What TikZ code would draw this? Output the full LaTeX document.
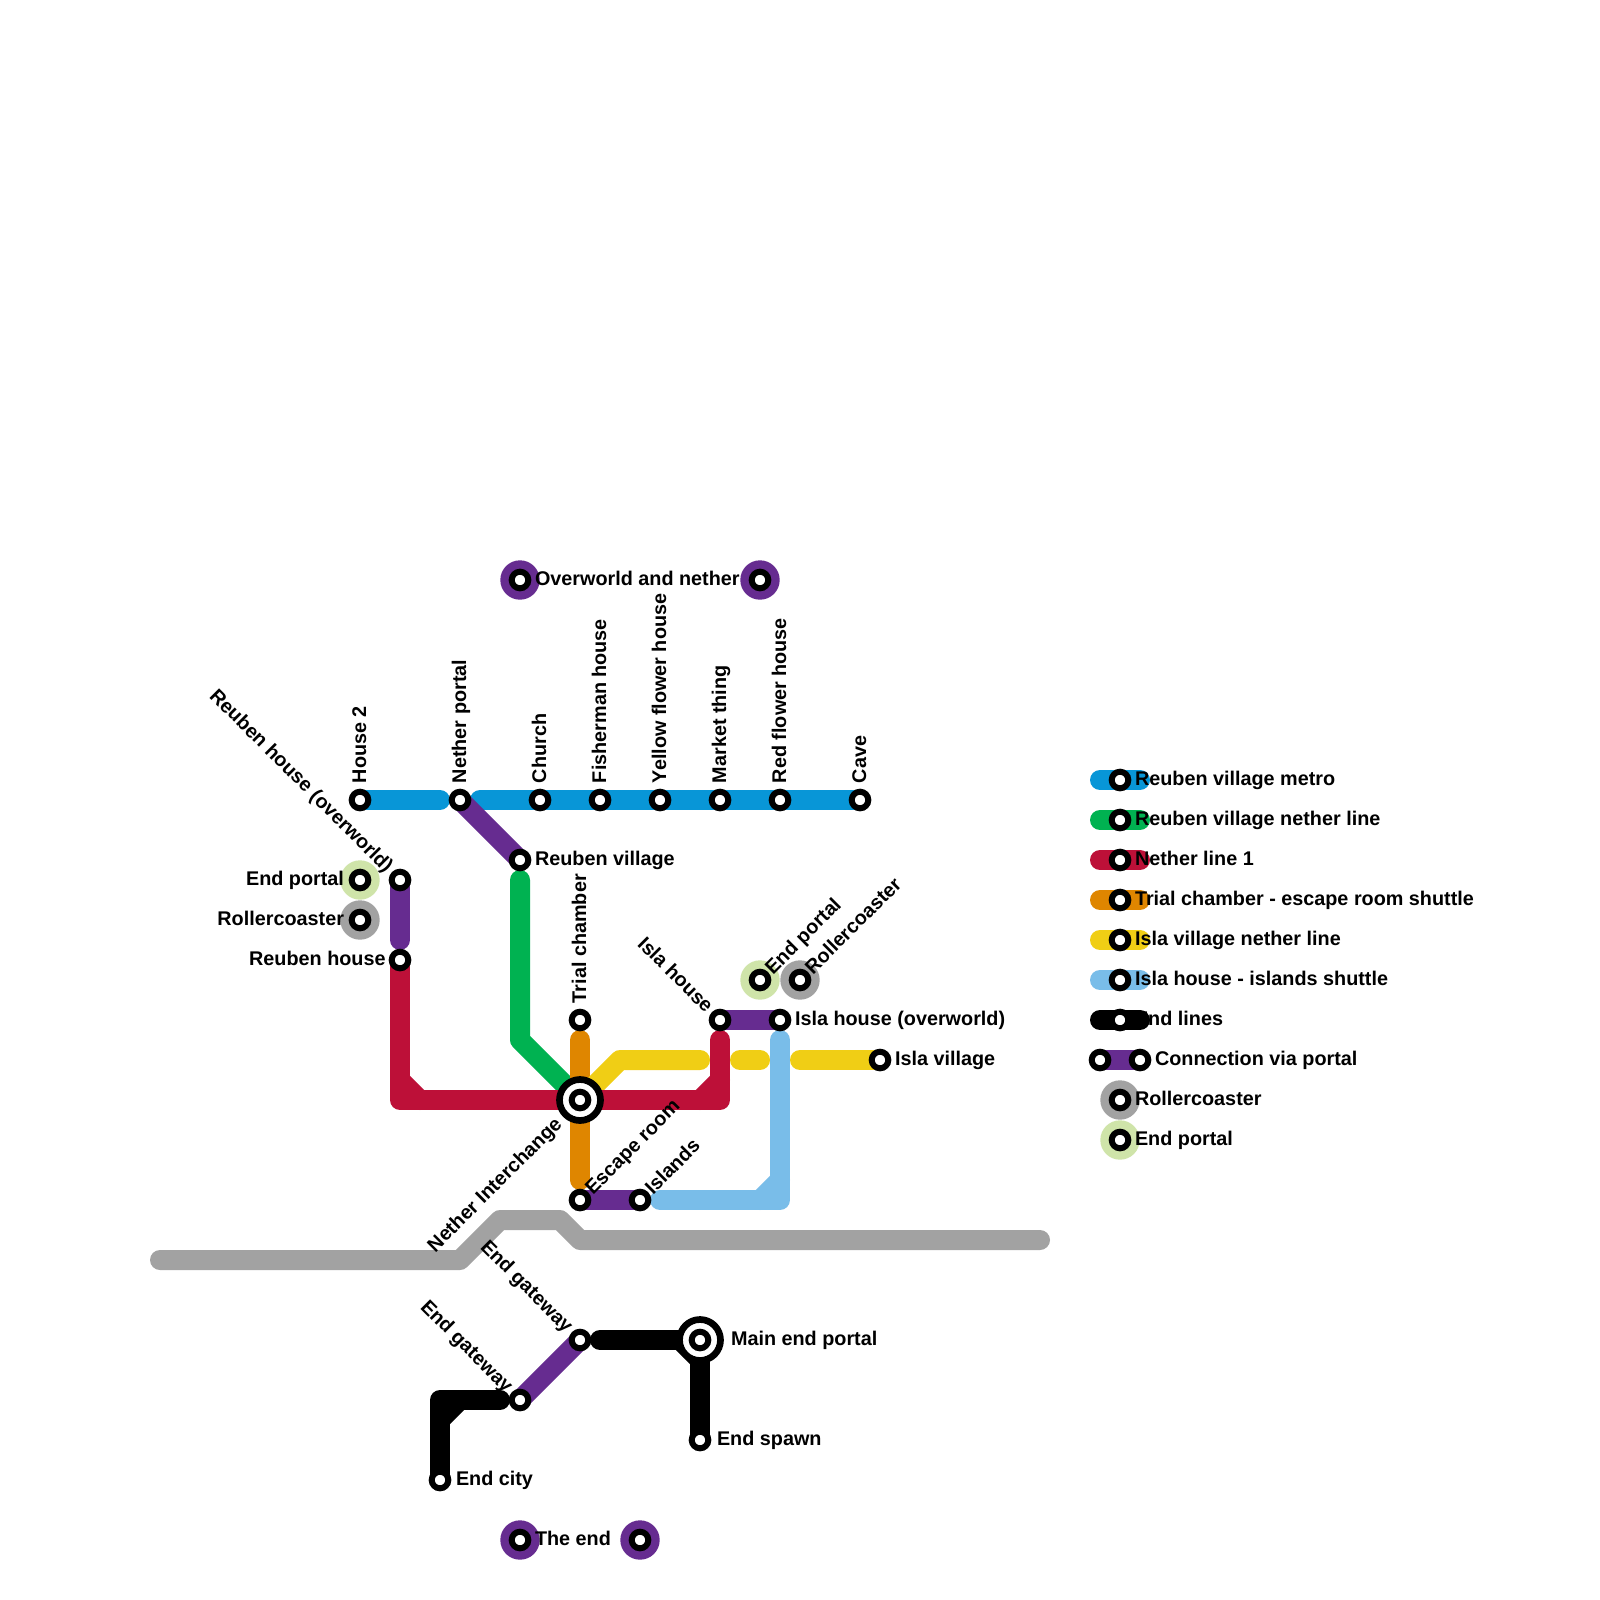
\documentclass[tikz,border=0pt]{standalone}
\usepackage{fontspec}
\setmainfont{Liberation Sans}
\definecolor{cblue}{HTML}{0896D7}
\definecolor{cgreen}{HTML}{00B251}
\definecolor{cred}{HTML}{BD1038}
\definecolor{corange}{HTML}{DF8600}
\definecolor{cyellow}{HTML}{F0CE15}
\definecolor{clblue}{HTML}{79BDE9}
\definecolor{cpurple}{HTML}{662C90}
\definecolor{cgrey}{HTML}{A2A2A2}
\definecolor{cpale}{HTML}{CFE4A9}
\newcommand\lblfont{\fontsize{19.8pt}{22pt}\selectfont\bfseries}
\tikzset{
  ln/.style={line width=20pt, line cap=round, line join=round},
  stn/.style={circle, draw=black, fill=white, line width=6pt, minimum size=16.6pt, inner sep=0pt, outer sep=0pt},
  xchg/.style={circle, draw=black, fill=white, line width=6.7pt, minimum size=41pt, inner sep=0pt, outer sep=0pt},
  mk/.style={circle, inner sep=0pt, outer sep=0pt, minimum size=39.4pt},
  lbl/.style={inner sep=0pt, outer sep=0pt, font=\lblfont, text=black},
  vlbl/.style={lbl, rotate=90, anchor=base west},
  rlbl/.style={lbl, anchor=base west},
  llbl/.style={lbl, anchor=base east},
  dnlbl/.style={lbl, rotate=-45, anchor=base east},
  uplbl/.style={lbl, rotate=45, anchor=base west},
}
\begin{document}
\begin{tikzpicture}[x=20pt,y=-20pt]
\useasboundingbox[fill=white] (0,0) rectangle (80,80);
% ---------- station coordinates ----------
\coordinate (hs2) at (18,40);
\coordinate (np) at (23,40);
\coordinate (ch) at (27,40);
\coordinate (fh) at (30,40);
\coordinate (yfh) at (33,40);
\coordinate (mt) at (36,40);
\coordinate (rfh) at (39,40);
\coordinate (cave) at (43,40);
\coordinate (rv) at (26,43);
\coordinate (ep1) at (18,44);
\coordinate (rc1) at (18,46);
\coordinate (rho) at (20,44);
\coordinate (rh) at (20,48);
\coordinate (tc) at (29,51);
\coordinate (ih) at (36,51);
\coordinate (iho) at (39,51);
\coordinate (ep2) at (38,49);
\coordinate (rc2) at (40,49);
\coordinate (iv) at (44,53);
\coordinate (ni) at (29,55);
\coordinate (er) at (29,60);
\coordinate (isl) at (32,60);
\coordinate (eg1) at (29,67);
\coordinate (eg2) at (26,70);
\coordinate (mep) at (35,67);
\coordinate (es) at (35,72);
\coordinate (ec) at (22,74);
\coordinate (on1) at (26,29);
\coordinate (on2) at (38,29);
\coordinate (te1) at (26,77);
\coordinate (te2) at (32,77);
% ---------- line points ----------
\coordinate (b1) at (22,40); \coordinate (b2) at (24,40);
\coordinate (p1) at (20,47);
\coordinate (g1) at (26,44); \coordinate (g2) at (26,52);
\coordinate (r1) at (20,55); \coordinate (r2) at (36,55); \coordinate (r3) at (36,52);
\coordinate (r4) at (20,54); \coordinate (r5) at (21,55);
\coordinate (r6) at (35,55); \coordinate (r7) at (36,54);
\coordinate (o1) at (29,52); \coordinate (o2) at (29,59);
\coordinate (y1) at (31,53); \coordinate (y2) at (35,53);
\coordinate (y3) at (37,53); \coordinate (y4) at (38,53); \coordinate (y5) at (40,53);
\coordinate (lb1) at (33,60); \coordinate (lb2) at (39,60); \coordinate (lb3) at (39,52);
\coordinate (lb4) at (38,60); \coordinate (lb5) at (39,59);
\coordinate (k1) at (30,67); \coordinate (k2) at (34,67); \coordinate (k3) at (35,68);
\coordinate (k4) at (25,70); \coordinate (k5) at (22,70); \coordinate (k6) at (22,71); \coordinate (k7) at (23,70);
\coordinate (q1) at (8,63); \coordinate (q2) at (23,63); \coordinate (q3) at (25,61);
\coordinate (q4) at (28,61); \coordinate (q5) at (29,62); \coordinate (q6) at (52,62);
% ---------- lines ----------
\draw[ln,cgrey] (q1) -- (q2) -- (q3) -- (q4) -- (q5) -- (q6);
\draw[ln,cblue] (hs2) -- (b1);
\draw[ln,cblue] (b2) -- (cave);
\draw[ln,cpurple] (np) -- (rv);
\draw[ln,cpurple] (rho) -- (p1);
\draw[ln,cpurple] (ih) -- (iho);
\draw[ln,cpurple] (er) -- (isl);
\draw[ln,cpurple] (eg2) -- (eg1);
\draw[ln,cgreen] (g1) -- (g2) -- (ni);
\draw[ln,corange] (o1) -- (o2);
\draw[ln,cyellow] (ni) -- (y1) -- (y2);
\draw[ln,cyellow] (y3) -- (y4);
\draw[ln,cyellow] (y5) -- (iv);
\draw[ln,cred] (rh) -- (r1) -- (r2) -- (r3);
\draw[ln,cred] (r4) -- (r5);
\draw[ln,cred] (r6) -- (r7);
\draw[ln,clblue] (lb1) -- (lb2) -- (lb3);
\draw[ln,clblue] (lb4) -- (lb5);
\draw[ln,black] (k1) -- (mep) -- (es);
\draw[ln,black] (k2) -- (k3);
\draw[ln,black] (k4) -- (k5) -- (ec);
\draw[ln,black] (k6) -- (k7);
% ---------- markers ----------
\node[mk, fill=cpurple] (m-on1) at (on1) {};
\node[mk, fill=cpurple] (m-on2) at (on2) {};
\node[mk, fill=cpurple] (m-te1) at (te1) {};
\node[mk, fill=cpurple] (m-te2) at (te2) {};
\node[mk, fill=cpale] (m-ep1) at (ep1) {};
\node[mk, fill=cgrey] (m-rc1) at (rc1) {};
\node[mk, fill=cpale] (m-ep2) at (ep2) {};
\node[mk, fill=cgrey] (m-rc2) at (rc2) {};
% ---------- interchanges ----------
\node[xchg] (x-ni) at (ni) {};
\node[xchg] (x-mep) at (mep) {};
% ---------- stations ----------
\node[stn] (s-hs2) at (hs2) {};
\node[stn] (s-np) at (np) {};
\node[stn] (s-ch) at (ch) {};
\node[stn] (s-fh) at (fh) {};
\node[stn] (s-yfh) at (yfh) {};
\node[stn] (s-mt) at (mt) {};
\node[stn] (s-rfh) at (rfh) {};
\node[stn] (s-cave) at (cave) {};
\node[stn] (s-rv) at (rv) {};
\node[stn] (s-ep1) at (ep1) {};
\node[stn] (s-rc1) at (rc1) {};
\node[stn] (s-rho) at (rho) {};
\node[stn] (s-rh) at (rh) {};
\node[stn] (s-tc) at (tc) {};
\node[stn] (s-ih) at (ih) {};
\node[stn] (s-iho) at (iho) {};
\node[stn] (s-ep2) at (ep2) {};
\node[stn] (s-rc2) at (rc2) {};
\node[stn] (s-iv) at (iv) {};
\node[stn] (s-ni) at (ni) {};
\node[stn] (s-er) at (er) {};
\node[stn] (s-isl) at (isl) {};
\node[stn] (s-eg1) at (eg1) {};
\node[stn] (s-eg2) at (eg2) {};
\node[stn] (s-mep) at (mep) {};
\node[stn] (s-es) at (es) {};
\node[stn] (s-ec) at (ec) {};
\node[stn] (s-on1) at (on1) {};
\node[stn] (s-on2) at (on2) {};
\node[stn] (s-te1) at (te1) {};
\node[stn] (s-te2) at (te2) {};
% ---------- labels ----------
\node[vlbl] (l-hs2) at ([shift={(0.3,-0.85)}]hs2) {House 2};
\node[vlbl] (l-np) at ([shift={(0.3,-0.85)}]np) {Nether portal};
\node[vlbl] (l-ch) at ([shift={(0.3,-0.85)}]ch) {Church};
\node[vlbl] (l-fh) at ([shift={(0.3,-0.85)}]fh) {Fisherman house};
\node[vlbl] (l-yfh) at ([shift={(0.3,-0.85)}]yfh) {Yellow flower house};
\node[vlbl] (l-mt) at ([shift={(0.3,-0.85)}]mt) {Market thing};
\node[vlbl] (l-rfh) at ([shift={(0.3,-0.85)}]rfh) {Red flower house};
\node[vlbl] (l-cave) at ([shift={(0.3,-0.85)}]cave) {Cave};
\node[vlbl] (l-tc) at ([shift={(0.3,-0.85)}]tc) {Trial chamber};
\node[rlbl] (l-rv) at ([shift={(0.75,0.25)}]rv) {Reuben village};
\node[rlbl] (l-iho) at ([shift={(0.75,0.25)}]iho) {Isla house (overworld)};
\node[rlbl] (l-iv) at ([shift={(0.75,0.25)}]iv) {Isla village};
\node[rlbl] (l-es) at ([shift={(0.85,0.25)}]es) {End spawn};
\node[rlbl] (l-ec) at ([shift={(0.8,0.25)}]ec) {End city};
\node[rlbl] (l-mep) at ([shift={(1.55,0.25)}]mep) {Main end portal};
\node[rlbl] (l-on) at ([shift={(0.75,0.25)}]on1) {Overworld and nether};
\node[rlbl] (l-te) at ([shift={(0.75,0.25)}]te1) {The end};
\node[llbl] (l-ep1) at ([shift={(-0.8,0.25)}]ep1) {End portal};
\node[llbl] (l-rc1) at ([shift={(-0.8,0.25)}]rc1) {Rollercoaster};
\node[llbl] (l-rh) at ([shift={(-0.72,0.25)}]rh) {Reuben house};
\node[dnlbl] (l-rho) at ([shift={(-0.74,-0.32)}]rho) {Reuben house (overworld)};
\node[dnlbl] (l-ih) at ([shift={(-0.74,-0.32)}]ih) {Isla house};
\node[dnlbl] (l-eg1) at ([shift={(-0.74,-0.32)}]eg1) {End gateway};
\node[dnlbl] (l-eg2) at ([shift={(-0.74,-0.32)}]eg2) {End gateway};
\node[uplbl] (l-ep2) at ([shift={(0.65,-0.23)}]ep2) {End portal};
\node[uplbl] (l-rc2) at ([shift={(0.65,-0.23)}]rc2) {Rollercoaster};
\node[uplbl] (l-er) at ([shift={(0.65,-0.23)}]er) {Escape room};
\node[uplbl] (l-isl) at ([shift={(0.65,-0.23)}]isl) {Islands};
\node[lbl, rotate=45, anchor=base east] (l-ni) at ([shift={(-0.85,1.27)}]ni) {Nether Interchange};
% ---------- legend ----------
\coordinate (la1) at (55,39); \coordinate (lc1) at (56,39); \coordinate (lb1x) at (57,39);
\coordinate (la2) at (55,41); \coordinate (lc2) at (56,41); \coordinate (lb2x) at (57,41);
\coordinate (la3) at (55,43); \coordinate (lc3) at (56,43); \coordinate (lb3x) at (57,43);
\coordinate (la4) at (55,45); \coordinate (lc4) at (56,45); \coordinate (lb4x) at (57,45);
\coordinate (la5) at (55,47); \coordinate (lc5) at (56,47); \coordinate (lb5x) at (57,47);
\coordinate (la6) at (55,49); \coordinate (lc6) at (56,49); \coordinate (lb6x) at (57,49);
\coordinate (la7) at (55,51); \coordinate (lc7) at (56,51); \coordinate (lb7x) at (57,51);
\coordinate (la8) at (55,53); \coordinate (lb8x) at (57,53);
\coordinate (lc9) at (56,55);
\coordinate (lc10) at (56,57);
\draw[ln,cblue] (la1) -- (lb1x);
\draw[ln,cgreen] (la2) -- (lb2x);
\draw[ln,cred] (la3) -- (lb3x);
\draw[ln,corange] (la4) -- (lb4x);
\draw[ln,cyellow] (la5) -- (lb5x);
\draw[ln,clblue] (la6) -- (lb6x);
\node[rlbl] (t7) at ([shift={(0.75,0.25)}]lc7) {End lines};
\draw[ln,black] (la7) -- (lb7x);
\draw[ln,cpurple] (la8) -- (lb8x);
\node[mk, fill=cgrey] (m-l9) at (lc9) {};
\node[mk, fill=cpale] (m-l10) at (lc10) {};
\node[stn] (s-l1) at (lc1) {};
\node[stn] (s-l2) at (lc2) {};
\node[stn] (s-l3) at (lc3) {};
\node[stn] (s-l4) at (lc4) {};
\node[stn] (s-l5) at (lc5) {};
\node[stn] (s-l6) at (lc6) {};
\node[stn] (s-l7) at (lc7) {};
\node[stn] (s-l8a) at (la8) {};
\node[stn] (s-l8b) at (lb8x) {};
\node[stn] (s-l9) at (lc9) {};
\node[stn] (s-l10) at (lc10) {};
\node[rlbl] (t1) at ([shift={(0.75,0.25)}]lc1) {Reuben village metro};
\node[rlbl] (t2) at ([shift={(0.75,0.25)}]lc2) {Reuben village nether line};
\node[rlbl] (t3) at ([shift={(0.75,0.25)}]lc3) {Nether line 1};
\node[rlbl] (t4) at ([shift={(0.75,0.25)}]lc4) {Trial chamber - escape room shuttle};
\node[rlbl] (t5) at ([shift={(0.75,0.25)}]lc5) {Isla village nether line};
\node[rlbl] (t6) at ([shift={(0.75,0.25)}]lc6) {Isla house - islands shuttle};
\node[rlbl] (t8) at ([shift={(0.75,0.25)}]lb8x) {Connection via portal};
\node[rlbl] (t9) at ([shift={(0.75,0.25)}]lc9) {Rollercoaster};
\node[rlbl] (t10) at ([shift={(0.75,0.25)}]lc10) {End portal};
\end{tikzpicture}
\end{document}
